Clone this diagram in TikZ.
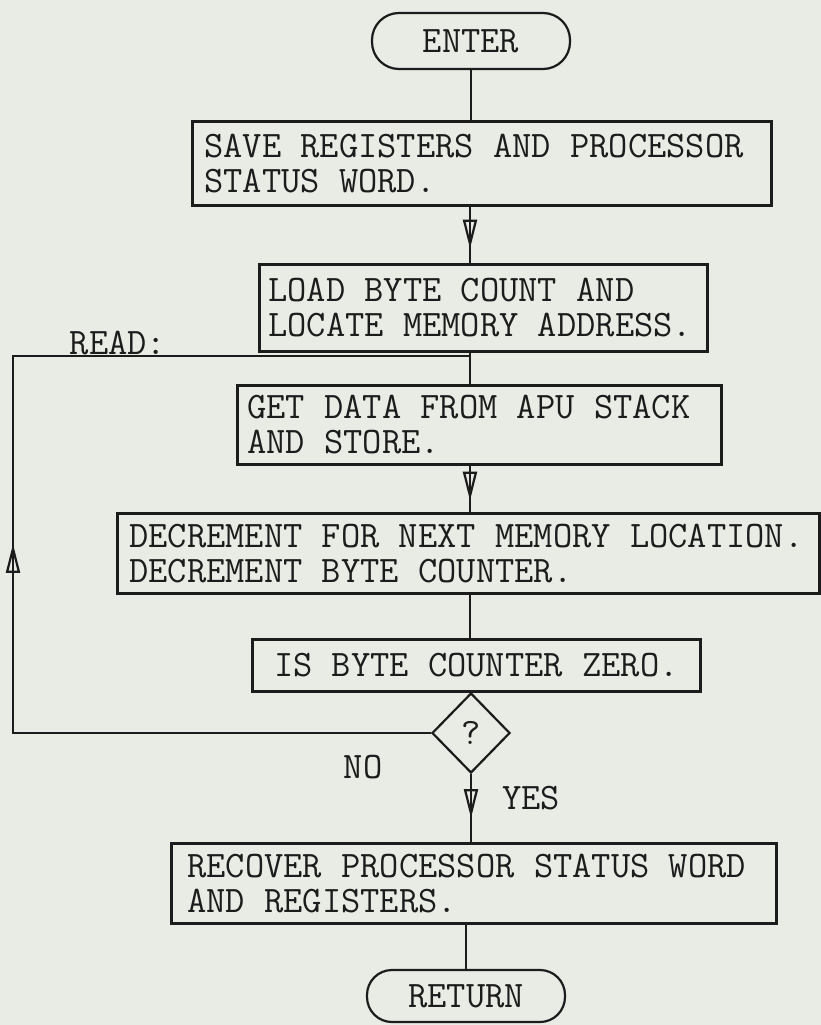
\documentclass[tikz,border=0pt]{standalone}
\usepackage{fontspec}
\usetikzlibrary{shapes.geometric,arrows.meta,decorations.markings}
\definecolor{paper}{RGB}{232,236,228}
\definecolor{ink}{RGB}{28,28,28}
\newcommand{\flowfont}{\ttfamily\fontsize{37.4}{35}\selectfont}
\begin{document}
\begin{tikzpicture}[x=1pt,y=-1pt,
  txt/.style={font=\flowfont, text=ink},
  procbox/.style={txt, draw=ink, line width=2.6pt, rectangle, inner ysep=0pt, align=flush left, anchor=north west},
  termbox/.style={txt, draw=ink, line width=2.2pt, rectangle, minimum width=198pt, inner sep=0pt},
  decbox/.style={txt, draw=ink, line width=2.2pt, diamond, minimum width=78pt, minimum height=80pt, inner sep=0pt},
  lbl/.style={txt},
  conn/.style={draw=ink, line width=1.8pt},
  marrow/.style={postaction={decorate, decoration={markings, mark=at position #1 with {\arrow[line width=2.2pt]{Triangle[open,length=29pt,width=14pt]}}}}}
]
\fill[paper] (0,0) rectangle (821,1025);
\useasboundingbox (0,0) rectangle (821,1025);

\coordinate (axis) at (470,0);
\node[termbox, minimum height=56pt, rounded corners=27pt] (enter) at (471,41) {ENTER};
\node[procbox, inner xsep=12pt, text width=555pt, minimum height=84pt] (save) at (191,120) {SAVE REGISTERS AND PROCESSOR\\STATUS WORD.};
\node[procbox, inner xsep=9pt, text width=430pt, minimum height=87pt] (load) at (258,263) {LOAD BYTE COUNT AND\\LOCATE MEMORY ADDRESS.};
\node[procbox, inner xsep=10pt, text width=464pt, minimum height=79pt] (get) at (236,384) {GET DATA FROM APU STACK\\AND STORE.};
\node[procbox, inner xsep=12pt, text width=678pt, minimum height=80pt] (dec) at (116,512) {DECREMENT FOR NEXT MEMORY LOCATION.\\DECREMENT BYTE COUNTER.};
\node[procbox, inner xsep=12pt, text width=424pt, minimum height=52pt, align=flush center] (isbc) at (251,638) {IS BYTE COUNTER ZERO.};
\node[decbox] (dia) at (471,733) {?};
\node[procbox, inner xsep=16pt, text width=573pt, minimum height=80pt] (rec) at (170,842) {RECOVER PROCESSOR STATUS WORD\\AND REGISTERS.};
\node[termbox, minimum height=52pt, rounded corners=25pt] (ret) at (466,996) {RETURN};

\node[lbl] (readlbl) at (118,343) {READ:};
\node[lbl] (nolbl) at (363,767) {NO};
\node[lbl] (yeslbl) at (531,798) {YES};

\coordinate (read) at (470,356);
\coordinate (lb) at (13,733);
\coordinate (lt) at (13,356);

\draw[conn] (enter.south) -- (enter.south |- save.north);
\draw[conn, marrow=42pt] (save.south -| axis) -- (load.north -| axis);
\draw[conn] (load.south -| axis) -- (get.north -| axis);
\draw[conn, marrow=35pt] (get.south -| axis) -- (dec.north -| axis);
\draw[conn] (dec.south -| axis) -- (isbc.north -| axis);
\draw[conn] (isbc.south -| dia) -- (dia.north);
\draw[conn, marrow=44pt] (dia.south) -- (rec.north -| dia.south);
\draw[conn] (rec.south -| ret) -- (ret.north);
\draw[conn, marrow=607pt] (dia.west) -- (lb) -- (lt) -- (read);
\end{tikzpicture}
\end{document}
